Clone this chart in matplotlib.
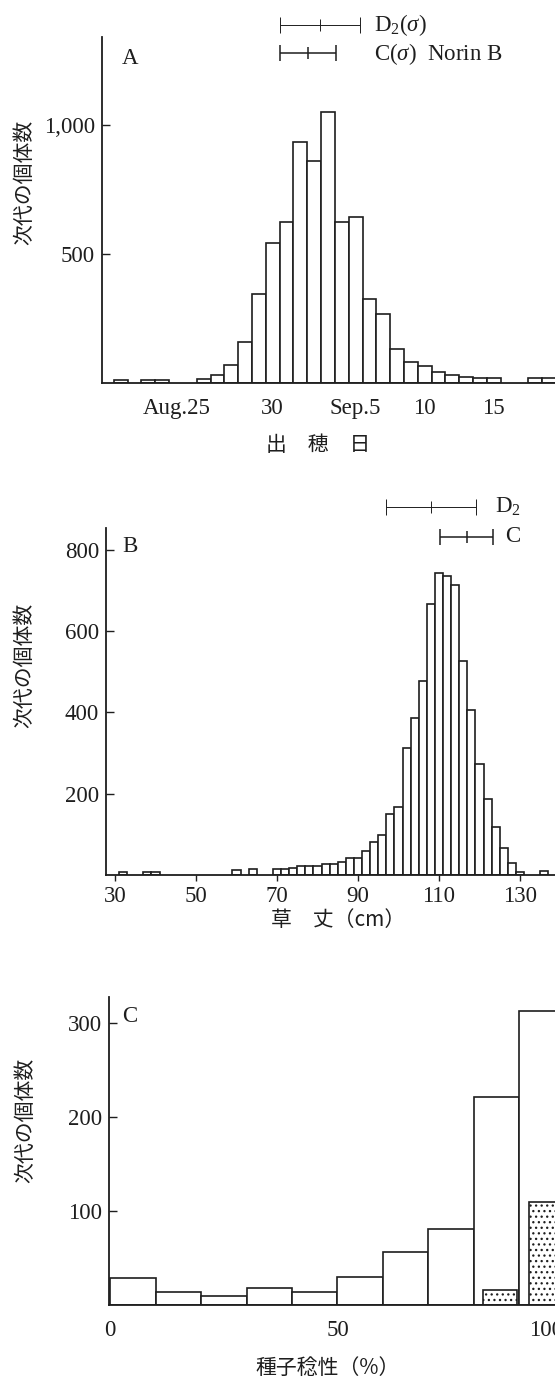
import matplotlib
matplotlib.use("Agg")
import matplotlib.pyplot as plt
from matplotlib.transforms import ScaledTranslation

# ================== Data ==================
# A: heading date (day number, Aug.25 = 25, Sep.1 = 32) -> number of plants
HEADING_DAY = [19, 21, 22, 25, 26, 27, 28, 29, 30, 31, 32, 33, 34, 35, 36,
               37, 38, 39, 40, 41, 42, 43, 44, 45, 46, 49, 50]
HEADING_COUNT = [10, 12, 12, 15, 32, 71, 158, 344, 543, 625, 933, 858, 1049,
                 625, 644, 327, 269, 130, 82, 66, 43, 32, 23, 21, 21, 21, 21]
HEADING_TICKS = [25, 30, 36, 41, 46]
HEADING_TICK_LABELS = ["Aug.25", "30", "Sep.5", "10", "15"]
HEADING_YTICKS = [500, 1000]
HEADING_RANGE_MEAN = [33.45, 32.55]      # D2, C (Norin B)
HEADING_RANGE_SD = [2.9, 2.0]

# B: plant height (cm, 2 cm classes) -> number of plants
HEIGHT_CM = [32, 38, 40, 60, 64, 70, 72, 74, 76, 78, 80, 82, 84, 86, 88, 90,
             92, 94, 96, 98, 100, 102, 104, 106, 108, 110, 112, 114, 116, 118,
             120, 122, 124, 126, 128, 130, 136]
HEIGHT_COUNT = [7, 8, 8, 13, 14, 15, 15, 16, 22, 22, 22, 27, 26, 31, 41, 41,
                60, 82, 98, 149, 167, 312, 387, 478, 667, 743, 736, 713, 527,
                406, 273, 187, 117, 66, 29, 8, 10]
HEIGHT_TICKS = [30, 50, 70, 90, 110, 130]
HEIGHT_YTICKS = [200, 400, 600, 800]
HEIGHT_RANGE_MEAN = [108.0, 116.8]       # D2, C
HEIGHT_RANGE_SD = [11.2, 6.5]

# C: seed fertility (% classes) -> number of plants
FERT_LEFT = [0, 10, 20, 30, 40, 50, 60, 70, 80, 90]
FERT_COUNT = [29, 14, 10, 18, 14, 30, 56, 81, 221, 313]
FERT_DOT_LEFT = [82, 92]
FERT_DOT_WIDTH = [7.5, 8]
FERT_DOT_COUNT = [16, 110]
FERT_TICKS = [0, 50, 100]
FERT_YTICKS = [100, 200, 300]

# ================== Style ==================
FIG_W, FIG_H, DPI = 555, 1379, 100
INK = "#1e1e1e"
SERIF = ["Liberation Serif", "DejaVu Serif"]
CJK = ["Noto Sans CJK JP", "DejaVu Sans"]
TICK_FS = 16.5
LABEL_FS = 15

plt.rcParams["font.family"] = SERIF
plt.rcParams["mathtext.fontset"] = "custom"
plt.rcParams["mathtext.rm"] = "Liberation Serif"
plt.rcParams["mathtext.it"] = "Liberation Serif:italic"
plt.rcParams["hatch.linewidth"] = 0.9
plt.rcParams["hatch.color"] = INK

fig = plt.figure(figsize=(FIG_W / DPI, FIG_H / DPI), dpi=DPI)


def fx(px):
    return px / FIG_W


def fy(py):
    return 1 - py / FIG_H


def add_panel(left, top, bottom, right=600):
    """Axes placed in pixel terms; right edge runs past the cropped page."""
    return fig.add_axes([left / FIG_W, 1 - bottom / FIG_H,
                         (right - left) / FIG_W, (bottom - top) / FIG_H])


def style_axes(ax):
    for side in ("top", "right"):
        ax.spines[side].set_visible(False)
    for side in ("left", "bottom"):
        ax.spines[side].set_linewidth(1.3)
        ax.spines[side].set_color(INK)
    ax.tick_params(axis="y", direction="in", length=6, width=1.0, pad=5,
                   labelsize=TICK_FS, colors=INK)
    ax.tick_params(axis="x", labelsize=TICK_FS, colors=INK)


def draw_range(ax, mean, sd, y, lw):
    cont = ax.errorbar([mean], [y], xerr=[sd], fmt="none", ecolor=INK,
                       elinewidth=lw, capsize=6, capthick=lw)
    for art in cont.get_children():
        art.set_clip_on(False)
    ax.plot([mean], [y], marker="|", ms=8, mew=lw, color=INK, clip_on=False)


def shift_label(ax, index, dx_px):
    label = ax.get_xticklabels()[index]
    label.set_transform(label.get_transform()
                        + ScaledTranslation(dx_px / DPI, 0, fig.dpi_scale_trans))


bar_style = dict(facecolor="white", edgecolor=INK, linewidth=1.2)

# ---------- A: heading date ----------
ax_a = add_panel(102, 37, 383)
ax_a.bar(HEADING_DAY, HEADING_COUNT, width=1.0, **bar_style)
ax_a.set_xlim(17.65, 53.68)
ax_a.set_ylim(0, 1340)
style_axes(ax_a)
ax_a.set_yticks(HEADING_YTICKS)
ax_a.set_yticklabels([f"{v:,}" for v in HEADING_YTICKS])
ax_a.set_xticks(HEADING_TICKS)
ax_a.set_xticklabels(HEADING_TICK_LABELS)
ax_a.tick_params(axis="x", length=0, pad=11)
shift_label(ax_a, 0, -27)
draw_range(ax_a, HEADING_RANGE_MEAN[0], HEADING_RANGE_SD[0], 1388, 0.7)
draw_range(ax_a, HEADING_RANGE_MEAN[1], HEADING_RANGE_SD[1], 1278, 1.1)
fig.text(fx(374), fy(25), r"D$_2$($\sigma$)", fontsize=TICK_FS,
         ha="left", va="center", color=INK)
fig.text(fx(374), fy(54), r"C($\sigma$)  Norin B", fontsize=TICK_FS,
         ha="left", va="center", color=INK)
fig.text(fx(122), fy(58), "A", fontsize=TICK_FS, ha="left", va="center",
         color=INK)
fig.text(fx(24), fy(182), "次代の個体数", rotation=90, fontsize=LABEL_FS,
         family=CJK, ha="center", va="center", color=INK)
fig.text(fx(318), fy(445), "出　穂　日", fontsize=LABEL_FS, family=CJK,
         ha="center", va="center", color=INK)

# ---------- B: plant height ----------
ax_b = add_panel(106, 528, 875)
ax_b.bar(HEIGHT_CM, HEIGHT_COUNT, width=2.0, **bar_style)
ax_b.set_xlim(27.78, 149.75)
ax_b.set_ylim(0, 854)
style_axes(ax_b)
ax_b.set_yticks(HEIGHT_YTICKS)
ax_b.set_xticks(HEIGHT_TICKS)
ax_b.tick_params(axis="x", direction="out", length=4, width=1.0, pad=4)
draw_range(ax_b, HEIGHT_RANGE_MEAN[0], HEIGHT_RANGE_SD[0], 906, 0.7)
draw_range(ax_b, HEIGHT_RANGE_MEAN[1], HEIGHT_RANGE_SD[1], 833, 1.1)
fig.text(fx(495), fy(507), r"D$_2$", fontsize=TICK_FS, ha="left",
         va="center", color=INK)
fig.text(fx(505), fy(537), "C", fontsize=TICK_FS, ha="left", va="center",
         color=INK)
fig.text(fx(122), fy(547), "B", fontsize=TICK_FS, ha="left", va="center",
         color=INK)
fig.text(fx(24), fy(665), "次代の個体数", rotation=90, fontsize=LABEL_FS,
         family=CJK, ha="center", va="center", color=INK)
fig.text(fx(338), fy(920), "草　丈（cm）", fontsize=LABEL_FS, family=CJK,
         ha="center", va="center", color=INK)

# ---------- C: seed fertility ----------
ax_c = add_panel(108.7, 997, 1305)
ax_c.bar(FERT_LEFT, FERT_COUNT, width=10, align="edge", **bar_style)
ax_c.bar(FERT_DOT_LEFT, FERT_DOT_COUNT, width=FERT_DOT_WIDTH, align="edge",
         facecolor="white", edgecolor=INK, linewidth=1.2, hatch="...")
ax_c.set_xlim(-0.29, 107.7)
ax_c.set_ylim(0, 327.6)
style_axes(ax_c)
ax_c.set_yticks(FERT_YTICKS)
ax_c.set_xticks(FERT_TICKS)
ax_c.tick_params(axis="x", length=0, pad=11)
shift_label(ax_c, 2, -19)
fig.text(fx(122), fy(1017), "C", fontsize=TICK_FS, ha="left", va="center",
         color=INK)
fig.text(fx(25), fy(1120), "次代の個体数", rotation=90, fontsize=LABEL_FS,
         family=CJK, ha="center", va="center", color=INK)
fig.text(fx(328), fy(1368), "種子稔性（%）", fontsize=LABEL_FS, family=CJK,
         ha="center", va="center", color=INK)

fig.savefig("out.png", dpi=DPI)
